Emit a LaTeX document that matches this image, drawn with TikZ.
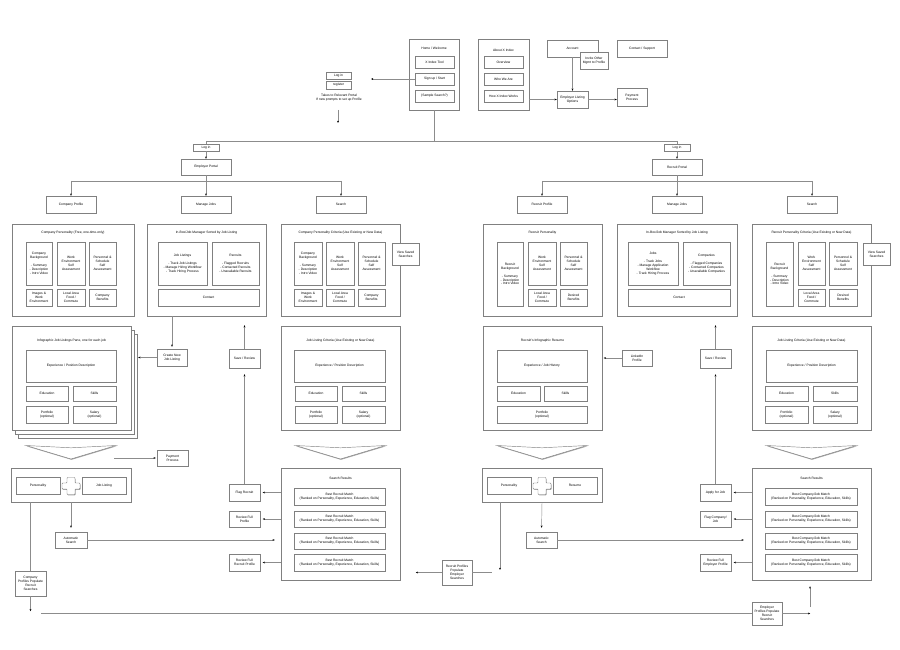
\documentclass[tikz,border=0pt]{standalone}
\usepackage{fontspec}
\setmainfont{Liberation Sans}
\usetikzlibrary{arrows.meta,shadows}
\tikzset{
  box/.style={draw=black!50,line width=0.45pt,fill=white,inner sep=0pt,align=center,
    font=\fontsize{3.3}{3.9}\selectfont,
    drop shadow={shadow xshift=0.8pt,shadow yshift=-1.0pt,fill=black!65,opacity=0.6}},
  ttl/.style={inner sep=0pt,align=center,font=\fontsize{3.3}{3.9}\selectfont},
  lineg/.style={draw=black!45,line width=0.45pt},
  arr/.style={lineg,-{Stealth[length=2.3pt,width=1.9pt,color=black]}},
  chev/.style={draw=black!50,line width=0.45pt,fill=white,
    drop shadow={shadow xshift=0.5pt,shadow yshift=-0.8pt,fill=black!65,opacity=0.55}},
}
\newcommand{\mybox}[7][]{\node[box,minimum width={(#5-#3)*1pt},minimum height={(#6-#4)*1pt},#1] (#2) at ({(#3+#5)/2},{(#4+#6)/2}) {#7};}
\newcommand{\mychev}[1]{\draw[chev] ({#1-45},445.5) -- ({#1},447.8) -- ({#1+45},445.5) -- ({#1},459) -- cycle;}
\newcommand{\myplus}[2]{\begin{scope}[shift={(#1,#2)}]\draw[chev,rounded corners=0.8pt] (-4,-8.5) -- (4,-8.5) -- (4,-3) -- (9,-3) -- (9,3) -- (4,3) -- (4,8.5) -- (-4,8.5) -- (-4,3) -- (-9,3) -- (-9,-3) -- (-4,-3) -- cycle;\end{scope}}
\begin{document}
\begin{tikzpicture}[x=1pt,y=-1pt]
\useasboundingbox (0,0) rectangle (900,650);
\fill[white] (0,0) rectangle (900,650);

% ---------- top ----------
\mybox{hw}{409}{39}{459}{110}{}
\node[ttl] (hwt) at (434,48) {Home / Welcome};
\mybox{hw1}{415}{56}{454}{68}{X Index Tool}
\mybox{hw2}{415}{73}{454}{85}{Sign up / Start}
\mybox{hw3}{415}{90}{454}{102}{(Sample Search?)}

\mybox{ab}{478}{39}{529}{110}{}
\node[ttl] (abt) at (503.5,50) {About X Index};
\mybox{ab1}{484}{56}{523}{68}{Overview}
\mybox{ab2}{484}{73}{523}{85}{Who We Are}
\mybox{ab3}{484}{90}{523}{102}{How X Index Works}

\mybox{acc}{547}{40}{598}{57}{Account}
\mybox{inv}{580}{52}{608}{69}{Invite Other\\Mgmt to Profile}
\mybox{cs}{617}{40}{667}{57}{Contact / Support}
\mybox{elo}{557}{91}{588}{108}{Employer Listing\\Options}
\mybox{pay}{617}{88}{647}{106}{Payment\\Process}

\mybox{lgi}{326}{72}{351}{79}{Log in}
\mybox{reg}{326}{81}{351}{89}{register}
\node[ttl] (note) at (339,98) {Takes to Relevant Portal\\If new prompts to set up Profile};

\draw[arr] (acc.south -| elo.north) -- (elo.north);
\draw[arr] (ab.east |- elo.west) -- (elo.west);
\draw[arr] (elo.east) -- (elo.east -| pay.west);
\coordinate (lgend) at (371,79);
\draw[arr] (hw2.west) -- (lgend);
\coordinate (n1) at (338,110);
\draw[arr] (n1) -- ++(0,13);

\coordinate (hb) at (434,141);
\coordinate (lb) at (206,141);
\coordinate (rb) at (677,141);
\draw[lineg] (hw.south) -- (hb);
\draw[lineg] (lb) -- (rb);

\mybox{liL}{193}{144}{219}{151}{Log in}
\mybox{liR}{664}{144}{690}{151}{Log in}
\draw[lineg] (lb) -- (liL.north);
\draw[lineg] (rb) -- (liR.north);
\mybox{EP}{181}{159}{231}{175}{Employer Portal}
\mybox{RP}{652}{159}{702}{175}{Recruit Portal}
\draw[arr] (liL.south) -- (EP.north);
\draw[arr] (liR.south) -- (RP.north);

\mybox{CP}{46}{196}{96}{213}{Company Profile}
\mybox{MJ}{181}{196}{231}{213}{Manage Jobs}
\mybox{S}{316}{196}{366}{213}{Search}
\mybox{RPr}{517}{196}{567}{213}{Recruit Profile}
\mybox{MJR}{652}{196}{702}{213}{Manage Jobs}
\mybox{SR}{787}{196}{837}{213}{Search}
\coordinate (h2a) at (71,181); \coordinate (h2b) at (341,181);
\coordinate (h2c) at (542,181); \coordinate (h2d) at (812,181);
\draw[lineg] (h2a) -- (h2b);
\draw[lineg] (h2c) -- (h2d);
\draw[arr] (EP.south) -- (MJ.north);
\draw[arr] (RP.south) -- (MJR.north);
\draw[arr] (h2a) -- (CP.north);
\draw[arr] (h2b) -- (S.north);
\draw[arr] (h2c) -- (RPr.north);
\draw[arr] (h2d) -- (SR.north);

% ---------- level 3 left ----------
\mybox{F1}{12}{224}{134}{316}{}
\node[ttl] (F1t) at (73,233) {Company Personality (Free, one-time-only)};
\mybox{F1a}{26}{242}{52}{285}{Company\\Background\\[3.9pt]- Summary\\- Description\\- Intro Video}
\mybox{F1b}{57}{242}{85}{285}{Work\\Environment\\Self\\Assessment}
\mybox{F1c}{89}{242}{116}{285}{Personnel \&\\Schedule\\Self\\Assessment}
\mybox{F1d}{26}{289}{52}{306}{Images \&\\Work\\Environment}
\mybox{F1e}{57}{289}{85}{306}{Local Area\\Food /\\Commute}
\mybox{F1f}{89}{289}{116}{306}{Company\\Benefits}

\mybox{F2}{147}{224}{266}{316}{}
\node[ttl] (F2t) at (206.5,233) {In-Box/Job Manager Sorted by Job Listing};
\mybox{F2a}{158}{242}{207}{285}{Job Listings\\[3.9pt]- Track Job Listings\\- Manage Hiring Workflow\\- Track Hiring Process}
\mybox{F2b}{212}{242}{259}{285}{Recruits\\[3.9pt]- Flagged Recruits\\- Contacted Recruits\\- Unavailable Recruits}
\mybox{F2c}{158}{289}{259}{306}{Contact}

\mybox{F3}{281}{224}{400}{316}{}
\node[ttl] (F3t) at (340.5,233) {Company Personality Criteria (Use Existing or New Data)};
\mybox{F3a}{294}{242}{322}{285}{Company\\Background\\[3.9pt]- Summary\\- Description\\- Intro Video}
\mybox{F3b}{326}{242}{354}{285}{Work\\Environment\\Self\\Assessment}
\mybox{F3c}{358}{242}{385}{285}{Personnel \&\\Schedule\\Self\\Assessment}
\mybox{F3d}{294}{289}{322}{306}{Images \&\\Work\\Environment}
\mybox{F3e}{326}{289}{354}{306}{Local Area\\Food /\\Commute}
\mybox{F3f}{358}{289}{385}{306}{Company\\Benefits}
\mybox{VSL}{392}{243}{419}{265}{View Saved\\Searches}

% ---------- level 3 right ----------
\mybox{F4}{483}{224}{602}{316}{}
\node[ttl] (F4t) at (542.5,233) {Recruit Personality};
\mybox{F4a}{497}{242}{523}{306}{Recruit\\Background\\[3.9pt]- Summary\\- Description\\- Intro Video}
\mybox{F4b}{528}{242}{556}{285}{Work\\Environment\\Self\\Assessment}
\mybox{F4c}{560}{242}{587}{285}{Personnel \&\\Schedule\\Self\\Assessment}
\mybox{F4e}{528}{289}{556}{306}{Local Area\\Food /\\Commute}
\mybox{F4f}{560}{289}{587}{306}{Desired\\Benefits}

\mybox{F5}{617}{224}{737}{316}{}
\node[ttl] (F5t) at (677,233) {In-Box/Job Manager Sorted by Job Listing};
\mybox{F5a}{628}{242}{678}{285}{Jobs\\[3.9pt]- Track Jobs\\- Manage Application\\Workflow\\- Track Hiring Process}
\mybox{F5b}{683}{242}{730}{285}{Companies\\[3.9pt]- Flagged Companies\\- Contacted Companies\\- Unavailable Companies}
\mybox{F5c}{628}{289}{730}{306}{Contact}

\mybox{F6}{752}{224}{871}{316}{}
\node[ttl] (F6t) at (811.5,233) {Recruit Personality Criteria (Use Existing or New Data)};
\mybox{F6a}{766}{242}{793}{306}{Recruit\\Background\\[3.9pt]- Summary\\- Description\\- Intro Video}
\mybox{F6b}{798}{242}{825}{285}{Work\\Environment\\Self\\Assessment}
\mybox{F6c}{829}{242}{857}{285}{Personnel \&\\Schedule\\Self\\Assessment}
\mybox{F6e}{798}{289}{825}{306}{Local Area\\Food /\\Commute}
\mybox{F6f}{829}{289}{857}{306}{Desired\\Benefits}
\mybox{VSR}{863}{243}{890}{265}{View Saved\\Searches}

% ---------- level 4 ----------
\mybox{stk3}{18}{334}{137}{438}{}
\mybox{stk2}{15}{330}{134}{434}{}
\mybox{stk1}{12}{326}{131}{430}{}
\node[ttl] (stkt) at (71.5,341) {Infographic Job Listings Pane, one for each job};
\mybox{S1a}{26}{350}{116}{382}{Experience / Position Description}
\mybox{S1b}{26}{386}{68}{401}{Education}
\mybox{S1c}{73}{386}{116}{401}{Skills}
\mybox{S1d}{26}{406}{68}{423}{Portfolio\\(optional)}
\mybox{S1e}{73}{406}{116}{423}{Salary\\(optional)}
\mybox{CNJ}{157}{349}{187}{366}{Create New\\Job Listing}
\mybox{SaveL}{229}{349}{260}{368}{Save / Review}

\mybox{F7}{281}{326}{400}{430}{}
\node[ttl] (F7t) at (340.5,341) {Job Listing Criteria (Use Existing or New Data)};
\mybox{F7a}{294}{350}{385}{382}{Experience / Position Description}
\mybox{F7b}{295}{386}{337}{401}{Education}
\mybox{F7c}{342}{386}{385}{401}{Skills}
\mybox{F7d}{295}{406}{337}{423}{Portfolio\\(optional)}
\mybox{F7e}{342}{406}{385}{423}{Salary\\(optional)}

\mybox{F8}{483}{326}{602}{430}{}
\node[ttl] (F8t) at (542.5,341) {Recruit's Infographic Resume};
\mybox{F8a}{497}{350}{587}{382}{Experience / Job History}
\mybox{F8b}{497}{386}{540}{401}{Education}
\mybox{F8c}{544}{386}{587}{401}{Skills}
\mybox{F8d}{497}{406}{587}{423}{Portfolio\\(optional)}
\mybox{LI}{622}{350}{652}{366}{LinkedIn\\Profile}
\mybox{SaveR}{700}{349}{731}{368}{Save / Review}

\mybox{F9}{752}{326}{871}{430}{}
\node[ttl] (F9t) at (811.5,341) {Job Listing Criteria (Use Existing or New Data)};
\mybox{F9a}{766}{350}{857}{382}{Experience / Position Description}
\mybox{F9b}{765}{386}{808}{401}{Education}
\mybox{F9c}{813}{386}{857}{401}{Skills}
\mybox{F9d}{765}{406}{808}{423}{Portfolio\\(optional)}
\mybox{F9e}{813}{406}{857}{423}{Salary\\(optional)}

\draw[arr,shorten >=2pt] (CNJ.north |- F2.south) -- (CNJ.north);
\draw[arr,shorten >=1pt] (CNJ.west) -- (CNJ.west -| stk3.east);
\draw[arr,shorten >=9pt] (SaveL.north) -- (SaveL.north |- F2.south);
\draw[arr,shorten >=9pt] (SaveR.north) -- (SaveR.north |- F5.south);
\draw[arr,shorten >=1.5pt] (LI.west) -- (LI.west -| F8.east);

% ---------- level 5 ----------
\mychev{71}
\mychev{340.5}
\mychev{542}
\mychev{811.5}

\mybox{PayL}{157}{450}{188}{466}{Payment\\Process}
\coordinate (pl) at (114,458);
\draw[arr,shorten >=1pt] (pl) -- (pl -| PayL.west);

\mybox{PJ}{11}{468}{131}{502}{}
\mybox{PJa}{16}{477}{60}{494}{Personality}
\mybox{PJb}{82}{477}{126}{494}{Job Listing}
\myplus{71}{486}
\mybox{PR}{482}{468}{602}{502}{}
\mybox{PRa}{487}{477}{531}{494}{Personality}
\mybox{PRb}{553}{477}{597}{494}{Resume}
\myplus{542}{486}

\mybox{ASL}{55}{532}{87}{548}{Automatic\\Search}
\mybox{ASR}{526}{532}{557}{548}{Automatic\\Search}
\mybox{CPP}{15}{571}{46}{596}{Company\\Profiles Populate\\Recruit\\Searches}
\mybox{RPP}{442}{560}{472}{585}{Recruit Profiles\\Populate\\Employer\\Searches}
\mybox{EPP}{752}{602}{782}{625}{Employer\\Profiles Populate\\Recruit\\Searches}

\mybox{SRL}{281}{468}{400}{580}{}
\node[ttl] (SRLt) at (340.5,478) {Search Results};
\mybox{SRL1}{294}{488}{385}{505}{Best Recruit Match\\(Ranked on Personality, Experience, Education, Skills)}
\mybox{SRL2}{294}{511}{385}{527}{Best Recruit Match\\(Ranked on Personality, Experience, Education, Skills)}
\mybox{SRL3}{294}{533}{385}{549}{Best Recruit Match\\(Ranked on Personality, Experience, Education, Skills)}
\mybox{SRL4}{294}{554}{385}{571}{Best Recruit Match\\(Ranked on Personality, Experience, Education, Skills)}
\mybox{FlagR}{229}{484}{260}{501}{Flag Recruit}
\mybox{RevFP}{229}{511}{260}{527}{Review Full\\Profile}
\mybox{RevFRP}{229}{554}{260}{571}{Review Full\\Recruit Profile}

\mybox{SRR}{752}{468}{871}{580}{}
\node[ttl] (SRRt) at (811.5,478) {Search Results};
\mybox{SRR1}{765}{488}{857}{505}{Best Company/Job Match\\(Ranked on Personality, Experience, Education, Skills)}
\mybox{SRR2}{765}{511}{857}{527}{Best Company/Job Match\\(Ranked on Personality, Experience, Education, Skills)}
\mybox{SRR3}{765}{533}{857}{549}{Best Company/Job Match\\(Ranked on Personality, Experience, Education, Skills)}
\mybox{SRR4}{765}{554}{857}{571}{Best Company/Job Match\\(Ranked on Personality, Experience, Education, Skills)}
\mybox{Apply}{700}{484}{731}{501}{Apply for Job}
\mybox{FlagC}{700}{511}{731}{527}{Flag Company/\\Job}
\mybox{RevE}{700}{554}{731}{571}{Review Full\\Employer Profile}

\draw[arr,shorten >=6pt] (FlagR.north) -- (SaveL.south);
\draw[arr,shorten >=6pt] (Apply.north) -- (SaveR.south);
\draw[arr,shorten >=4pt] (PJ.south) -- (ASL.north);
\draw[arr,shorten >=6pt] (ASL.east) -- (ASL.east -| SRL.west);
\draw[lineg] (CPP.north |- PJ.south) -- (CPP.north);
\draw[arr] (CPP.south) -- ++(0,15);
\coordinate (bl) at (41,613);
\draw[lineg] (bl) -- (bl -| EPP.west);
\draw[arr,shorten >=2.5pt] (SRL.west |- FlagR.east) -- (FlagR.east);
\draw[arr,shorten >=2.5pt] (SRL.west |- RevFP.east) -- (RevFP.east);
\draw[arr,shorten >=2.5pt] (SRL.west |- RevFRP.east) -- (RevFRP.east);
\draw[arr] (RPP.west) -- ++(-26,0);
\draw[lineg] (RPP.east) -- ++(20,0);
\coordinate (px) at (500,502);
\draw[arr] (px) -- ++(0,68);
\draw[arr,shorten >=4pt] (PR.south) -- (ASR.north);
\draw[arr,shorten >=8pt] (ASR.east) -- (ASR.east -| SRR.west);
\draw[arr,shorten >=2.5pt] (SRR.west |- Apply.east) -- (Apply.east);
\draw[arr,shorten >=2.5pt] (SRR.west |- FlagC.east) -- (FlagC.east);
\draw[arr,shorten >=2.5pt] (SRR.west |- RevE.east) -- (RevE.east);
\draw[arr] (EPP.east) -- ++(28,0);
\coordinate (ev) at (810,607);
\draw[arr,shorten >=6pt] (ev) -- (ev |- SRR.south);
\end{tikzpicture}
\end{document}
